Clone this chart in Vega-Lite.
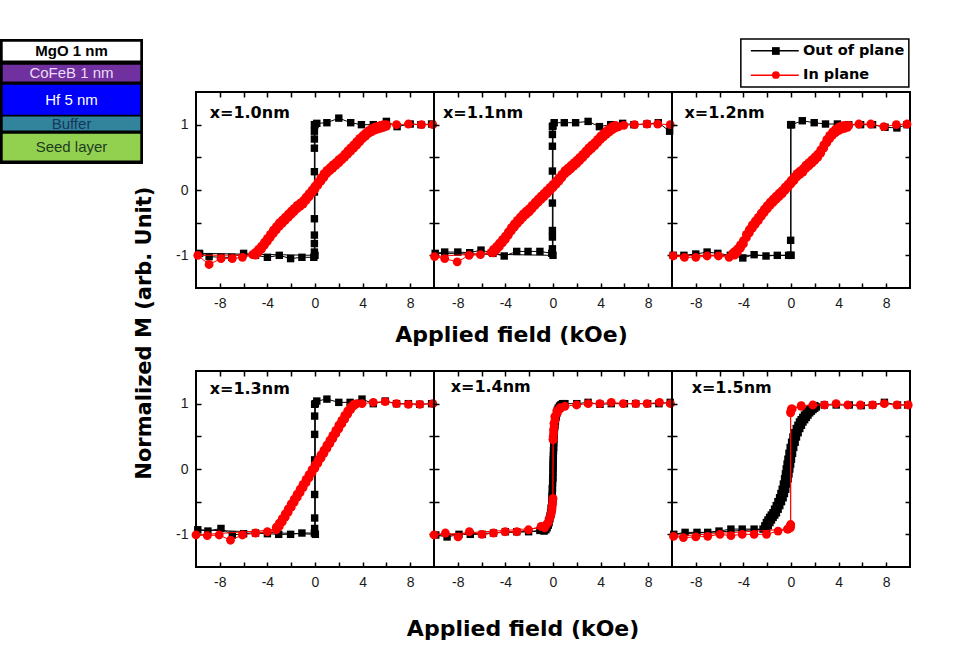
{
"$schema":"https://vega.github.io/schema/vega-lite/v6.json",
"background":"white",
"padding":{"left":0,"top":38,"right":0,"bottom":0},
"spacing":-10,
"datasets":{
"p1":[
{"s":"O","o":1,"h":9.8,"m":1.01},{"s":"O","o":2,"h":8.9,"m":1.0},{"s":"O","o":3,"h":8.0,"m":1.01},{"s":"O","o":4,"h":6.9,"m":0.97},{"s":"O","o":5,"h":6.0,"m":1.05},{"s":"O","o":6,"h":4.9,"m":1.0},{"s":"O","o":7,"h":3.9,"m":1.0},{"s":"O","o":8,"h":3.0,"m":1.03},{"s":"O","o":9,"h":2.0,"m":1.1},{"s":"O","o":10,"h":1.0,"m":1.03},{"s":"O","o":11,"h":0.15,"m":1.02},{"s":"O","o":12,"h":-0.05,"m":1.0},{"s":"O","o":13,"h":-0.05,"m":0.9},{"s":"O","o":14,"h":-0.05,"m":0.78},{"s":"O","o":15,"h":-0.05,"m":0.64},{"s":"O","o":16,"h":-0.05,"m":0.28},{"s":"O","o":17,"h":-0.05,"m":-0.03},{"s":"O","o":18,"h":-0.05,"m":-0.44},{"s":"O","o":19,"h":-0.05,"m":-0.69},{"s":"O","o":20,"h":-0.05,"m":-0.82},{"s":"O","o":21,"h":-0.05,"m":-0.95},{"s":"O","o":22,"h":-0.1,"m":-1.03},{"s":"O","o":23,"h":-1.1,"m":-1.03},{"s":"O","o":24,"h":-2.05,"m":-1.05},{"s":"O","o":25,"h":-3.0,"m":-1.0},{"s":"O","o":26,"h":-4.0,"m":-1.03},{"s":"O","o":27,"h":-5.0,"m":-1.0},{"s":"O","o":28,"h":-6.0,"m":-0.97},{"s":"O","o":29,"h":-7.0,"m":-1.03},{"s":"O","o":30,"h":-7.9,"m":-1.03},{"s":"O","o":31,"h":-8.9,"m":-1.02},{"s":"O","o":32,"h":-9.7,"m":-0.97},{"s":"O","o":33,"h":0.0,"m":-1.0},{"s":"O","o":34,"h":0.0,"m":1.0},
{"s":"I","o":1,"h":9.9,"m":1.0},{"s":"I","o":2,"h":8.95,"m":1.0},{"s":"I","o":3,"h":7.85,"m":1.01},{"s":"I","o":4,"h":6.85,"m":1.0},{"s":"I","o":5,"h":6.0,"m":1.0},
{"s":"I","o":6,"h":5.75,"m":1.0},{"s":"I","o":7,"h":5.5,"m":0.99},{"s":"I","o":8,"h":5.25,"m":0.975},{"s":"I","o":9,"h":5.0,"m":0.96},{"s":"I","o":10,"h":4.75,"m":0.94},{"s":"I","o":11,"h":4.5,"m":0.91},{"s":"I","o":12,"h":4.25,"m":0.87},{"s":"I","o":13,"h":4.0,"m":0.83},{"s":"I","o":14,"h":3.75,"m":0.79},{"s":"I","o":15,"h":3.5,"m":0.74},{"s":"I","o":16,"h":3.25,"m":0.69},{"s":"I","o":17,"h":3.0,"m":0.645},{"s":"I","o":18,"h":2.75,"m":0.6},{"s":"I","o":19,"h":2.5,"m":0.55},{"s":"I","o":20,"h":2.25,"m":0.5},{"s":"I","o":21,"h":2.0,"m":0.465},{"s":"I","o":22,"h":1.75,"m":0.42},{"s":"I","o":23,"h":1.5,"m":0.385},{"s":"I","o":24,"h":1.25,"m":0.34},{"s":"I","o":25,"h":1.0,"m":0.3},{"s":"I","o":26,"h":0.75,"m":0.25},{"s":"I","o":27,"h":0.5,"m":0.185},{"s":"I","o":28,"h":0.25,"m":0.12},{"s":"I","o":29,"h":0.0,"m":0.06},{"s":"I","o":30,"h":-0.25,"m":0.0},{"s":"I","o":31,"h":-0.5,"m":-0.055},{"s":"I","o":32,"h":-0.75,"m":-0.11},{"s":"I","o":33,"h":-1.0,"m":-0.165},{"s":"I","o":34,"h":-1.25,"m":-0.2},{"s":"I","o":35,"h":-1.5,"m":-0.235},{"s":"I","o":36,"h":-1.75,"m":-0.28},{"s":"I","o":37,"h":-2.0,"m":-0.325},{"s":"I","o":38,"h":-2.25,"m":-0.37},{"s":"I","o":39,"h":-2.5,"m":-0.415},{"s":"I","o":40,"h":-2.75,"m":-0.46},{"s":"I","o":41,"h":-3.0,"m":-0.505},{"s":"I","o":42,"h":-3.25,"m":-0.56},{"s":"I","o":43,"h":-3.5,"m":-0.615},{"s":"I","o":44,"h":-3.75,"m":-0.68},{"s":"I","o":45,"h":-4.0,"m":-0.74},{"s":"I","o":46,"h":-4.25,"m":-0.8},{"s":"I","o":47,"h":-4.5,"m":-0.86},{"s":"I","o":48,"h":-4.75,"m":-0.91},{"s":"I","o":49,"h":-5.0,"m":-0.955},{"s":"I","o":50,"h":-5.25,"m":-0.99},
{"s":"I","o":51,"h":-6.1,"m":-1.03},{"s":"I","o":52,"h":-6.95,"m":-1.05},{"s":"I","o":53,"h":-7.9,"m":-1.05},{"s":"I","o":54,"h":-8.9,"m":-1.14},{"s":"I","o":55,"h":-9.85,"m":-1.0},
{"s":"I","o":56,"h":-5.0,"m":-0.995},{"s":"I","o":57,"h":-4.75,"m":-0.95},{"s":"I","o":58,"h":-4.5,"m":-0.905},{"s":"I","o":59,"h":-4.25,"m":-0.845},{"s":"I","o":60,"h":-4.0,"m":-0.785},{"s":"I","o":61,"h":-3.75,"m":-0.725},{"s":"I","o":62,"h":-3.5,"m":-0.665},{"s":"I","o":63,"h":-3.25,"m":-0.61},{"s":"I","o":64,"h":-3.0,"m":-0.555},{"s":"I","o":65,"h":-2.75,"m":-0.51},{"s":"I","o":66,"h":-2.5,"m":-0.465},{"s":"I","o":67,"h":-2.25,"m":-0.42},{"s":"I","o":68,"h":-2.0,"m":-0.375},{"s":"I","o":69,"h":-1.75,"m":-0.33},{"s":"I","o":70,"h":-1.5,"m":-0.285},{"s":"I","o":71,"h":-1.25,"m":-0.25},{"s":"I","o":72,"h":-1.0,"m":-0.215},{"s":"I","o":73,"h":-0.75,"m":-0.16},{"s":"I","o":74,"h":-0.5,"m":-0.105},{"s":"I","o":75,"h":-0.25,"m":-0.045},{"s":"I","o":76,"h":0.0,"m":0.015},{"s":"I","o":77,"h":0.25,"m":0.075},{"s":"I","o":78,"h":0.5,"m":0.135},{"s":"I","o":79,"h":0.75,"m":0.195},{"s":"I","o":80,"h":1.0,"m":0.255},{"s":"I","o":81,"h":1.25,"m":0.295},{"s":"I","o":82,"h":1.5,"m":0.335},{"s":"I","o":83,"h":1.75,"m":0.375},{"s":"I","o":84,"h":2.0,"m":0.415},{"s":"I","o":85,"h":2.25,"m":0.46},{"s":"I","o":86,"h":2.5,"m":0.505},{"s":"I","o":87,"h":2.75,"m":0.55},{"s":"I","o":88,"h":3.0,"m":0.595},{"s":"I","o":89,"h":3.25,"m":0.64},{"s":"I","o":90,"h":3.5,"m":0.685},{"s":"I","o":91,"h":3.75,"m":0.735},{"s":"I","o":92,"h":4.0,"m":0.785},{"s":"I","o":93,"h":4.25,"m":0.825},{"s":"I","o":94,"h":4.5,"m":0.865},{"s":"I","o":95,"h":4.75,"m":0.89},{"s":"I","o":96,"h":5.0,"m":0.915},{"s":"I","o":97,"h":5.25,"m":0.93},{"s":"I","o":98,"h":5.5,"m":0.945},{"s":"I","o":99,"h":5.75,"m":0.96},{"s":"I","o":100,"h":6.0,"m":0.975}
],
"p2":[
{"s":"O","o":1,"h":9.8,"m":0.9},{"s":"O","o":2,"h":8.85,"m":1.03},{"s":"O","o":3,"h":7.9,"m":1.01},{"s":"O","o":4,"h":6.8,"m":1.0},{"s":"O","o":5,"h":5.85,"m":1.02},{"s":"O","o":6,"h":4.85,"m":1.0},{"s":"O","o":7,"h":3.9,"m":0.97},{"s":"O","o":8,"h":2.95,"m":1.05},{"s":"O","o":9,"h":1.9,"m":1.03},{"s":"O","o":10,"h":0.95,"m":1.03},{"s":"O","o":11,"h":0.1,"m":1.03},{"s":"O","o":12,"h":-0.05,"m":0.97},{"s":"O","o":13,"h":-0.05,"m":0.85},{"s":"O","o":14,"h":-0.05,"m":0.67},{"s":"O","o":15,"h":-0.05,"m":0.29},{"s":"O","o":16,"h":-0.05,"m":-0.2},{"s":"O","o":17,"h":-0.05,"m":-0.62},{"s":"O","o":18,"h":-0.05,"m":-0.72},{"s":"O","o":19,"h":-0.05,"m":-0.9},{"s":"O","o":20,"h":-0.1,"m":-0.97},{"s":"O","o":21,"h":-1.1,"m":-0.94},{"s":"O","o":22,"h":-2.1,"m":-0.94},{"s":"O","o":23,"h":-3.05,"m":-0.94},{"s":"O","o":24,"h":-4.1,"m":-1.01},{"s":"O","o":25,"h":-5.05,"m":-0.97},{"s":"O","o":26,"h":-6.05,"m":-0.92},{"s":"O","o":27,"h":-7.0,"m":-0.96},{"s":"O","o":28,"h":-8.0,"m":-0.95},{"s":"O","o":29,"h":-9.1,"m":-0.95},{"s":"O","o":30,"h":-9.9,"m":-0.97},{"s":"O","o":31,"h":0.0,"m":-1.0},{"s":"O","o":32,"h":0.0,"m":0.98},
{"s":"I","o":1,"h":9.85,"m":1.0},{"s":"I","o":2,"h":8.8,"m":1.01},{"s":"I","o":3,"h":7.9,"m":1.01},{"s":"I","o":4,"h":6.85,"m":1.0},{"s":"I","o":5,"h":5.95,"m":0.99},
{"s":"I","o":6,"h":5.25,"m":0.99},{"s":"I","o":7,"h":5.0,"m":0.975},{"s":"I","o":8,"h":4.75,"m":0.94},{"s":"I","o":9,"h":4.5,"m":0.905},{"s":"I","o":10,"h":4.25,"m":0.865},{"s":"I","o":11,"h":4.0,"m":0.825},{"s":"I","o":12,"h":3.75,"m":0.775},{"s":"I","o":13,"h":3.5,"m":0.725},{"s":"I","o":14,"h":3.25,"m":0.685},{"s":"I","o":15,"h":3.0,"m":0.645},{"s":"I","o":16,"h":2.75,"m":0.595},{"s":"I","o":17,"h":2.5,"m":0.545},{"s":"I","o":18,"h":2.25,"m":0.5},{"s":"I","o":19,"h":2.0,"m":0.455},{"s":"I","o":20,"h":1.75,"m":0.415},{"s":"I","o":21,"h":1.5,"m":0.375},{"s":"I","o":22,"h":1.25,"m":0.335},{"s":"I","o":23,"h":1.0,"m":0.295},{"s":"I","o":24,"h":0.75,"m":0.24},{"s":"I","o":25,"h":0.5,"m":0.185},{"s":"I","o":26,"h":0.25,"m":0.135},{"s":"I","o":27,"h":0.0,"m":0.085},{"s":"I","o":28,"h":-0.25,"m":0.04},{"s":"I","o":29,"h":-0.5,"m":-0.005},{"s":"I","o":30,"h":-0.75,"m":-0.05},{"s":"I","o":31,"h":-1.0,"m":-0.095},{"s":"I","o":32,"h":-1.25,"m":-0.14},{"s":"I","o":33,"h":-1.5,"m":-0.185},{"s":"I","o":34,"h":-1.75,"m":-0.235},{"s":"I","o":35,"h":-2.0,"m":-0.285},{"s":"I","o":36,"h":-2.25,"m":-0.325},{"s":"I","o":37,"h":-2.5,"m":-0.365},{"s":"I","o":38,"h":-2.75,"m":-0.415},{"s":"I","o":39,"h":-3.0,"m":-0.465},{"s":"I","o":40,"h":-3.25,"m":-0.52},{"s":"I","o":41,"h":-3.5,"m":-0.575},{"s":"I","o":42,"h":-3.75,"m":-0.64},{"s":"I","o":43,"h":-4.0,"m":-0.705},{"s":"I","o":44,"h":-4.25,"m":-0.76},{"s":"I","o":45,"h":-4.5,"m":-0.815},{"s":"I","o":46,"h":-4.75,"m":-0.865},{"s":"I","o":47,"h":-5.0,"m":-0.91},{"s":"I","o":48,"h":-5.2,"m":-0.955},
{"s":"I","o":49,"h":-6.1,"m":-0.99},{"s":"I","o":50,"h":-7.05,"m":-1.0},{"s":"I","o":51,"h":-8.05,"m":-1.1},{"s":"I","o":52,"h":-9.1,"m":-1.05},{"s":"I","o":53,"h":-9.95,"m":-1.02},
{"s":"I","o":54,"h":-5.0,"m":-0.96},{"s":"I","o":55,"h":-4.75,"m":-0.915},{"s":"I","o":56,"h":-4.5,"m":-0.865},{"s":"I","o":57,"h":-4.25,"m":-0.81},{"s":"I","o":58,"h":-4.0,"m":-0.755},{"s":"I","o":59,"h":-3.75,"m":-0.69},{"s":"I","o":60,"h":-3.5,"m":-0.625},{"s":"I","o":61,"h":-3.25,"m":-0.57},{"s":"I","o":62,"h":-3.0,"m":-0.515},{"s":"I","o":63,"h":-2.75,"m":-0.465},{"s":"I","o":64,"h":-2.5,"m":-0.415},{"s":"I","o":65,"h":-2.25,"m":-0.375},{"s":"I","o":66,"h":-2.0,"m":-0.335},{"s":"I","o":67,"h":-1.75,"m":-0.285},{"s":"I","o":68,"h":-1.5,"m":-0.235},{"s":"I","o":69,"h":-1.25,"m":-0.19},{"s":"I","o":70,"h":-1.0,"m":-0.145},{"s":"I","o":71,"h":-0.75,"m":-0.1},{"s":"I","o":72,"h":-0.5,"m":-0.055},{"s":"I","o":73,"h":-0.25,"m":-0.01},{"s":"I","o":74,"h":0.0,"m":0.035},{"s":"I","o":75,"h":0.25,"m":0.085},{"s":"I","o":76,"h":0.5,"m":0.135},{"s":"I","o":77,"h":0.75,"m":0.19},{"s":"I","o":78,"h":1.0,"m":0.245},{"s":"I","o":79,"h":1.25,"m":0.285},{"s":"I","o":80,"h":1.5,"m":0.325},{"s":"I","o":81,"h":1.75,"m":0.365},{"s":"I","o":82,"h":2.0,"m":0.405},{"s":"I","o":83,"h":2.25,"m":0.45},{"s":"I","o":84,"h":2.5,"m":0.495},{"s":"I","o":85,"h":2.75,"m":0.545},{"s":"I","o":86,"h":3.0,"m":0.595},{"s":"I","o":87,"h":3.25,"m":0.635},{"s":"I","o":88,"h":3.5,"m":0.675},{"s":"I","o":89,"h":3.75,"m":0.725},{"s":"I","o":90,"h":4.0,"m":0.775},{"s":"I","o":91,"h":4.25,"m":0.815},{"s":"I","o":92,"h":4.5,"m":0.855},{"s":"I","o":93,"h":4.75,"m":0.89},{"s":"I","o":94,"h":5.0,"m":0.925},{"s":"I","o":95,"h":5.25,"m":0.95},{"s":"I","o":96,"h":5.5,"m":0.965}
],
"p3":[
{"s":"O","o":1,"h":9.75,"m":1.0},{"s":"O","o":2,"h":8.9,"m":0.95},{"s":"O","o":3,"h":7.9,"m":0.96},{"s":"O","o":4,"h":6.85,"m":1.0},{"s":"O","o":5,"h":5.85,"m":1.0},{"s":"O","o":6,"h":4.85,"m":1.0},{"s":"O","o":7,"h":3.9,"m":1.01},{"s":"O","o":8,"h":2.9,"m":1.01},{"s":"O","o":9,"h":1.95,"m":1.03},{"s":"O","o":10,"h":0.95,"m":1.06},{"s":"O","o":11,"h":0.05,"m":1.0},{"s":"O","o":12,"h":-0.03,"m":1.0},{"s":"O","o":13,"h":-0.03,"m":-0.77},{"s":"O","o":14,"h":-0.03,"m":-1.0},{"s":"O","o":15,"h":-0.2,"m":-1.0},{"s":"O","o":16,"h":-1.15,"m":-1.0},{"s":"O","o":17,"h":-2.1,"m":-1.01},{"s":"O","o":18,"h":-3.1,"m":-0.99},{"s":"O","o":19,"h":-4.05,"m":-1.04},{"s":"O","o":20,"h":-5.1,"m":-1.0},{"s":"O","o":21,"h":-6.15,"m":-0.97},{"s":"O","o":22,"h":-7.05,"m":-0.95},{"s":"O","o":23,"h":-8.0,"m":-0.98},{"s":"O","o":24,"h":-9.0,"m":-1.0},{"s":"O","o":25,"h":-9.9,"m":-1.0},{"s":"O","o":26,"h":0.0,"m":-1.0},{"s":"O","o":27,"h":0.0,"m":1.0},
{"s":"I","o":1,"h":9.75,"m":1.01},{"s":"I","o":2,"h":8.85,"m":1.0},{"s":"I","o":3,"h":7.8,"m":0.97},{"s":"I","o":4,"h":6.7,"m":1.01},{"s":"I","o":5,"h":5.7,"m":1.01},{"s":"I","o":6,"h":4.85,"m":0.99},
{"s":"I","o":7,"h":4.5,"m":0.99},{"s":"I","o":8,"h":4.25,"m":0.98},{"s":"I","o":9,"h":4.0,"m":0.96},{"s":"I","o":10,"h":3.75,"m":0.93},{"s":"I","o":11,"h":3.5,"m":0.89},{"s":"I","o":12,"h":3.25,"m":0.835},{"s":"I","o":13,"h":3.0,"m":0.77},{"s":"I","o":14,"h":2.75,"m":0.69},{"s":"I","o":15,"h":2.5,"m":0.615},{"s":"I","o":16,"h":2.25,"m":0.55},{"s":"I","o":17,"h":2.0,"m":0.505},{"s":"I","o":18,"h":1.75,"m":0.46},{"s":"I","o":19,"h":1.5,"m":0.42},{"s":"I","o":20,"h":1.25,"m":0.38},{"s":"I","o":21,"h":1.0,"m":0.325},{"s":"I","o":22,"h":0.75,"m":0.29},{"s":"I","o":23,"h":0.5,"m":0.25},{"s":"I","o":24,"h":0.25,"m":0.195},{"s":"I","o":25,"h":0.0,"m":0.145},{"s":"I","o":26,"h":-0.25,"m":0.09},{"s":"I","o":27,"h":-0.5,"m":0.045},{"s":"I","o":28,"h":-0.75,"m":-0.01},{"s":"I","o":29,"h":-1.0,"m":-0.05},{"s":"I","o":30,"h":-1.25,"m":-0.095},{"s":"I","o":31,"h":-1.5,"m":-0.14},{"s":"I","o":32,"h":-1.75,"m":-0.185},{"s":"I","o":33,"h":-2.0,"m":-0.24},{"s":"I","o":34,"h":-2.25,"m":-0.295},{"s":"I","o":35,"h":-2.5,"m":-0.355},{"s":"I","o":36,"h":-2.75,"m":-0.42},{"s":"I","o":37,"h":-3.0,"m":-0.475},{"s":"I","o":38,"h":-3.25,"m":-0.535},{"s":"I","o":39,"h":-3.5,"m":-0.605},{"s":"I","o":40,"h":-3.75,"m":-0.68},{"s":"I","o":41,"h":-4.0,"m":-0.775},{"s":"I","o":42,"h":-4.25,"m":-0.84},{"s":"I","o":43,"h":-4.5,"m":-0.9},{"s":"I","o":44,"h":-4.75,"m":-0.945},{"s":"I","o":45,"h":-4.9,"m":-0.97},
{"s":"I","o":46,"h":-5.2,"m":-1.03},{"s":"I","o":47,"h":-6.1,"m":-1.01},{"s":"I","o":48,"h":-7.05,"m":-1.01},{"s":"I","o":49,"h":-8.0,"m":-1.03},{"s":"I","o":50,"h":-8.95,"m":-1.03},{"s":"I","o":51,"h":-9.9,"m":-1.01},
{"s":"I","o":52,"h":-4.75,"m":-0.995},{"s":"I","o":53,"h":-4.5,"m":-0.95},{"s":"I","o":54,"h":-4.25,"m":-0.89},{"s":"I","o":55,"h":-4.0,"m":-0.825},{"s":"I","o":56,"h":-3.75,"m":-0.73},{"s":"I","o":57,"h":-3.5,"m":-0.655},{"s":"I","o":58,"h":-3.25,"m":-0.585},{"s":"I","o":59,"h":-3.0,"m":-0.525},{"s":"I","o":60,"h":-2.75,"m":-0.47},{"s":"I","o":61,"h":-2.5,"m":-0.405},{"s":"I","o":62,"h":-2.25,"m":-0.345},{"s":"I","o":63,"h":-2.0,"m":-0.29},{"s":"I","o":64,"h":-1.75,"m":-0.235},{"s":"I","o":65,"h":-1.5,"m":-0.19},{"s":"I","o":66,"h":-1.25,"m":-0.145},{"s":"I","o":67,"h":-1.0,"m":-0.1},{"s":"I","o":68,"h":-0.75,"m":-0.06},{"s":"I","o":69,"h":-0.5,"m":-0.005},{"s":"I","o":70,"h":-0.25,"m":0.04},{"s":"I","o":71,"h":0.0,"m":0.095},{"s":"I","o":72,"h":0.25,"m":0.145},{"s":"I","o":73,"h":0.5,"m":0.2},{"s":"I","o":74,"h":0.75,"m":0.24},{"s":"I","o":75,"h":1.0,"m":0.275},{"s":"I","o":76,"h":1.25,"m":0.33},{"s":"I","o":77,"h":1.5,"m":0.37},{"s":"I","o":78,"h":1.75,"m":0.41},{"s":"I","o":79,"h":2.0,"m":0.455},{"s":"I","o":80,"h":2.25,"m":0.5},{"s":"I","o":81,"h":2.5,"m":0.565},{"s":"I","o":82,"h":2.75,"m":0.64},{"s":"I","o":83,"h":3.0,"m":0.72},{"s":"I","o":84,"h":3.25,"m":0.785},{"s":"I","o":85,"h":3.5,"m":0.84},{"s":"I","o":86,"h":3.75,"m":0.88},{"s":"I","o":87,"h":4.0,"m":0.91},{"s":"I","o":88,"h":4.25,"m":0.93},{"s":"I","o":89,"h":4.5,"m":0.945},{"s":"I","o":90,"h":4.75,"m":0.96}
],
"p4":[
{"s":"O","o":1,"h":9.8,"m":1.0},{"s":"O","o":2,"h":8.8,"m":0.99},{"s":"O","o":3,"h":7.85,"m":1.0},{"s":"O","o":4,"h":6.85,"m":1.0},{"s":"O","o":5,"h":5.9,"m":1.04},{"s":"O","o":6,"h":4.9,"m":1.0},{"s":"O","o":7,"h":3.95,"m":1.07},{"s":"O","o":8,"h":2.95,"m":1.02},{"s":"O","o":9,"h":2.0,"m":1.02},{"s":"O","o":10,"h":1.0,"m":1.07},{"s":"O","o":11,"h":0.15,"m":1.04},{"s":"O","o":12,"h":-0.03,"m":0.99},{"s":"O","o":13,"h":-0.03,"m":0.81},{"s":"O","o":14,"h":-0.03,"m":0.53},{"s":"O","o":15,"h":-0.03,"m":0.14},{"s":"O","o":16,"h":-0.03,"m":-0.39},{"s":"O","o":17,"h":-0.03,"m":-0.75},{"s":"O","o":18,"h":-0.03,"m":-0.91},{"s":"O","o":19,"h":-0.05,"m":-0.98},{"s":"O","o":20,"h":-1.1,"m":-0.98},{"s":"O","o":21,"h":-2.05,"m":-1.0},{"s":"O","o":22,"h":-3.05,"m":-1.0},{"s":"O","o":23,"h":-4.0,"m":-0.99},{"s":"O","o":24,"h":-5.0,"m":-0.98},{"s":"O","o":25,"h":-6.0,"m":-0.99},{"s":"O","o":26,"h":-6.95,"m":-1.01},{"s":"O","o":27,"h":-7.9,"m":-0.91},{"s":"O","o":28,"h":-9.0,"m":-0.95},{"s":"O","o":29,"h":-9.85,"m":-0.93},{"s":"O","o":30,"h":0.03,"m":-1.0},{"s":"O","o":31,"h":0.03,"m":1.0},
{"s":"I","o":1,"h":9.9,"m":1.0},{"s":"I","o":2,"h":8.8,"m":0.99},{"s":"I","o":3,"h":7.85,"m":0.99},{"s":"I","o":4,"h":6.85,"m":1.0},{"s":"I","o":5,"h":5.9,"m":1.03},{"s":"I","o":6,"h":4.9,"m":1.02},{"s":"I","o":7,"h":3.95,"m":1.0},{"s":"I","o":8,"h":3.5,"m":1.0},
{"s":"I","o":9,"h":3.25,"m":0.99},{"s":"I","o":10,"h":3.0,"m":0.95},{"s":"I","o":11,"h":2.75,"m":0.89},{"s":"I","o":12,"h":2.5,"m":0.82},{"s":"I","o":13,"h":2.25,"m":0.745},{"s":"I","o":14,"h":2.0,"m":0.67},{"s":"I","o":15,"h":1.75,"m":0.59},{"s":"I","o":16,"h":1.5,"m":0.515},{"s":"I","o":17,"h":1.25,"m":0.44},{"s":"I","o":18,"h":1.0,"m":0.365},{"s":"I","o":19,"h":0.75,"m":0.29},{"s":"I","o":20,"h":0.5,"m":0.215},{"s":"I","o":21,"h":0.25,"m":0.14},{"s":"I","o":22,"h":0.0,"m":0.065},{"s":"I","o":23,"h":-0.25,"m":-0.01},{"s":"I","o":24,"h":-0.5,"m":-0.085},{"s":"I","o":25,"h":-0.75,"m":-0.16},{"s":"I","o":26,"h":-1.0,"m":-0.235},{"s":"I","o":27,"h":-1.25,"m":-0.31},{"s":"I","o":28,"h":-1.5,"m":-0.385},{"s":"I","o":29,"h":-1.75,"m":-0.46},{"s":"I","o":30,"h":-2.0,"m":-0.535},{"s":"I","o":31,"h":-2.25,"m":-0.61},{"s":"I","o":32,"h":-2.5,"m":-0.685},{"s":"I","o":33,"h":-2.75,"m":-0.76},{"s":"I","o":34,"h":-3.0,"m":-0.83},{"s":"I","o":35,"h":-3.25,"m":-0.89},
{"s":"I","o":36,"h":-4.0,"m":-0.96},{"s":"I","o":37,"h":-5.0,"m":-0.98},{"s":"I","o":38,"h":-6.1,"m":-1.01},{"s":"I","o":39,"h":-7.1,"m":-1.09},{"s":"I","o":40,"h":-8.05,"m":-1.01},{"s":"I","o":41,"h":-9.05,"m":-1.02},{"s":"I","o":42,"h":-10.0,"m":-1.01},
{"s":"I","o":43,"h":-3.25,"m":-0.93},{"s":"I","o":44,"h":-3.0,"m":-0.88},{"s":"I","o":45,"h":-2.75,"m":-0.81},{"s":"I","o":46,"h":-2.5,"m":-0.735},{"s":"I","o":47,"h":-2.25,"m":-0.66},{"s":"I","o":48,"h":-2.0,"m":-0.585},{"s":"I","o":49,"h":-1.75,"m":-0.51},{"s":"I","o":50,"h":-1.5,"m":-0.435},{"s":"I","o":51,"h":-1.25,"m":-0.36},{"s":"I","o":52,"h":-1.0,"m":-0.285},{"s":"I","o":53,"h":-0.75,"m":-0.21},{"s":"I","o":54,"h":-0.5,"m":-0.135},{"s":"I","o":55,"h":-0.25,"m":-0.06},{"s":"I","o":56,"h":0.0,"m":0.015},{"s":"I","o":57,"h":0.25,"m":0.09},{"s":"I","o":58,"h":0.5,"m":0.165},{"s":"I","o":59,"h":0.75,"m":0.24},{"s":"I","o":60,"h":1.0,"m":0.315},{"s":"I","o":61,"h":1.25,"m":0.39},{"s":"I","o":62,"h":1.5,"m":0.465},{"s":"I","o":63,"h":1.75,"m":0.54},{"s":"I","o":64,"h":2.0,"m":0.615},{"s":"I","o":65,"h":2.25,"m":0.69},{"s":"I","o":66,"h":2.5,"m":0.765},{"s":"I","o":67,"h":2.75,"m":0.84},{"s":"I","o":68,"h":3.0,"m":0.91},{"s":"I","o":69,"h":3.25,"m":0.965},{"s":"I","o":70,"h":3.4,"m":0.99}
],
"p5":[
{"s":"O","o":1,"h":9.85,"m":1.02},{"s":"O","o":2,"h":8.9,"m":1.0},{"s":"O","o":3,"h":7.95,"m":1.0},{"s":"O","o":4,"h":6.95,"m":1.0},{"s":"O","o":5,"h":6.0,"m":1.0},{"s":"O","o":6,"h":4.9,"m":1.0},{"s":"O","o":7,"h":3.95,"m":0.99},{"s":"O","o":8,"h":2.95,"m":1.02},{"s":"O","o":9,"h":2.0,"m":1.0},
{"s":"O","o":10,"h":1.0,"m":1.0},{"s":"O","o":11,"h":0.85,"m":0.99},{"s":"O","o":12,"h":0.7,"m":0.98},{"s":"O","o":13,"h":0.57,"m":0.96},{"s":"O","o":14,"h":0.45,"m":0.93},{"s":"O","o":15,"h":0.37,"m":0.89},{"s":"O","o":16,"h":0.3,"m":0.85},{"s":"O","o":17,"h":0.25,"m":0.8},{"s":"O","o":18,"h":0.2,"m":0.75},{"s":"O","o":19,"h":0.16,"m":0.68},{"s":"O","o":20,"h":0.12,"m":0.6},{"s":"O","o":21,"h":0.09,"m":0.5},{"s":"O","o":22,"h":0.06,"m":0.4},{"s":"O","o":23,"h":0.04,"m":0.28},{"s":"O","o":24,"h":0.02,"m":0.15},{"s":"O","o":25,"h":0.01,"m":0.05},{"s":"O","o":26,"h":0.0,"m":-0.05},{"s":"O","o":27,"h":-0.015,"m":-0.12},{"s":"O","o":28,"h":-0.03,"m":-0.2},{"s":"O","o":29,"h":-0.05,"m":-0.3},{"s":"O","o":30,"h":-0.08,"m":-0.42},{"s":"O","o":31,"h":-0.11,"m":-0.52},{"s":"O","o":32,"h":-0.15,"m":-0.6},{"s":"O","o":33,"h":-0.2,"m":-0.67},{"s":"O","o":34,"h":-0.25,"m":-0.72},{"s":"O","o":35,"h":-0.31,"m":-0.77},{"s":"O","o":36,"h":-0.38,"m":-0.8},{"s":"O","o":37,"h":-0.46,"m":-0.85},{"s":"O","o":38,"h":-0.55,"m":-0.88},{"s":"O","o":39,"h":-0.65,"m":-0.9},{"s":"O","o":40,"h":-0.75,"m":-0.92},
{"s":"O","o":41,"h":-1.1,"m":-0.94},{"s":"O","o":42,"h":-2.05,"m":-0.96},{"s":"O","o":43,"h":-3.05,"m":-0.96},{"s":"O","o":44,"h":-4.0,"m":-0.96},{"s":"O","o":45,"h":-5.0,"m":-0.98},{"s":"O","o":46,"h":-5.95,"m":-1.0},{"s":"O","o":47,"h":-6.95,"m":-1.0},{"s":"O","o":48,"h":-7.9,"m":-1.0},{"s":"O","o":49,"h":-8.9,"m":-1.04},{"s":"O","o":50,"h":-9.85,"m":-1.01},
{"s":"O","o":51,"h":-0.75,"m":-0.95},{"s":"O","o":52,"h":-0.6,"m":-0.93},{"s":"O","o":53,"h":-0.5,"m":-0.9},{"s":"O","o":54,"h":-0.4,"m":-0.86},{"s":"O","o":55,"h":-0.33,"m":-0.82},{"s":"O","o":56,"h":-0.26,"m":-0.76},{"s":"O","o":57,"h":-0.2,"m":-0.7},{"s":"O","o":58,"h":-0.14,"m":-0.6},{"s":"O","o":59,"h":-0.1,"m":-0.5},{"s":"O","o":60,"h":-0.07,"m":-0.4},{"s":"O","o":61,"h":-0.05,"m":-0.3},{"s":"O","o":62,"h":-0.02,"m":-0.15},{"s":"O","o":63,"h":0.0,"m":0.0},{"s":"O","o":64,"h":0.015,"m":0.1},{"s":"O","o":65,"h":0.03,"m":0.2},{"s":"O","o":66,"h":0.055,"m":0.33},{"s":"O","o":67,"h":0.08,"m":0.45},{"s":"O","o":68,"h":0.11,"m":0.55},{"s":"O","o":69,"h":0.15,"m":0.65},{"s":"O","o":70,"h":0.2,"m":0.73},{"s":"O","o":71,"h":0.25,"m":0.8},{"s":"O","o":72,"h":0.31,"m":0.86},{"s":"O","o":73,"h":0.38,"m":0.9},{"s":"O","o":74,"h":0.46,"m":0.93},{"s":"O","o":75,"h":0.55,"m":0.96},{"s":"O","o":76,"h":0.67,"m":0.98},{"s":"O","o":77,"h":0.8,"m":1.0},
{"s":"I","o":1,"h":9.87,"m":1.0},{"s":"I","o":2,"h":8.95,"m":1.02},{"s":"I","o":3,"h":7.9,"m":1.0},{"s":"I","o":4,"h":6.95,"m":1.0},{"s":"I","o":5,"h":5.9,"m":1.0},{"s":"I","o":6,"h":4.9,"m":1.02},{"s":"I","o":7,"h":3.93,"m":1.0},{"s":"I","o":8,"h":2.96,"m":1.0},{"s":"I","o":9,"h":1.98,"m":0.98},{"s":"I","o":10,"h":1.0,"m":0.96},{"s":"I","o":11,"h":0.6,"m":0.94},{"s":"I","o":12,"h":0.32,"m":0.89},{"s":"I","o":13,"h":0.15,"m":0.8},{"s":"I","o":14,"h":0.08,"m":0.7},{"s":"I","o":15,"h":0.04,"m":0.6},{"s":"I","o":16,"h":0.02,"m":0.5},{"s":"I","o":17,"h":0.0,"m":0.45},{"s":"I","o":18,"h":0.0,"m":-0.45},{"s":"I","o":19,"h":-0.03,"m":-0.52},{"s":"I","o":20,"h":-0.08,"m":-0.6},{"s":"I","o":21,"h":-0.15,"m":-0.68},{"s":"I","o":22,"h":-0.3,"m":-0.76},{"s":"I","o":23,"h":-0.55,"m":-0.85},{"s":"I","o":24,"h":-1.0,"m":-0.88},{"s":"I","o":25,"h":-2.06,"m":-0.93},{"s":"I","o":26,"h":-3.04,"m":-0.96},{"s":"I","o":27,"h":-4.02,"m":-0.96},{"s":"I","o":28,"h":-5.0,"m":-0.98},{"s":"I","o":29,"h":-5.97,"m":-1.0},{"s":"I","o":30,"h":-7.03,"m":-0.96},{"s":"I","o":31,"h":-7.98,"m":-1.04},{"s":"I","o":32,"h":-9.04,"m":-0.98},{"s":"I","o":33,"h":-10.0,"m":-1.01},{"s":"I","o":34,"h":-0.7,"m":-0.9},{"s":"I","o":35,"h":-0.4,"m":-0.82},{"s":"I","o":36,"h":-0.2,"m":-0.72},{"s":"I","o":37,"h":-0.1,"m":-0.64},{"s":"I","o":38,"h":-0.05,"m":-0.55},{"s":"I","o":39,"h":-0.02,"m":-0.47},{"s":"I","o":40,"h":0.02,"m":0.45},{"s":"I","o":41,"h":0.05,"m":0.55},{"s":"I","o":42,"h":0.1,"m":0.65},{"s":"I","o":43,"h":0.18,"m":0.75},{"s":"I","o":44,"h":0.35,"m":0.85},{"s":"I","o":45,"h":0.6,"m":0.92}
],
"p6":[
{"s":"O","o":1,"h":9.8,"m":0.98},{"s":"O","o":2,"h":8.95,"m":0.98},{"s":"O","o":3,"h":7.85,"m":1.02},{"s":"O","o":4,"h":6.85,"m":0.98},{"s":"O","o":5,"h":5.9,"m":0.97},{"s":"O","o":6,"h":4.9,"m":0.98},{"s":"O","o":7,"h":3.8,"m":0.98},{"s":"O","o":8,"h":2.8,"m":0.98},
{"s":"O","o":9,"h":2.0,"m":0.97},{"s":"O","o":10,"h":1.83,"m":0.95},{"s":"O","o":11,"h":1.69,"m":0.93},{"s":"O","o":12,"h":1.55,"m":0.91},{"s":"O","o":13,"h":1.41,"m":0.885},{"s":"O","o":14,"h":1.27,"m":0.86},{"s":"O","o":15,"h":1.13,"m":0.825},{"s":"O","o":16,"h":0.99,"m":0.79},{"s":"O","o":17,"h":0.85,"m":0.755},{"s":"O","o":18,"h":0.71,"m":0.72},{"s":"O","o":19,"h":0.58,"m":0.67},{"s":"O","o":20,"h":0.44,"m":0.62},{"s":"O","o":21,"h":0.3,"m":0.555},{"s":"O","o":22,"h":0.16,"m":0.49},{"s":"O","o":23,"h":0.05,"m":0.41},{"s":"O","o":24,"h":-0.07,"m":0.33},{"s":"O","o":25,"h":-0.17,"m":0.24},{"s":"O","o":26,"h":-0.26,"m":0.15},{"s":"O","o":27,"h":-0.33,"m":0.075},{"s":"O","o":28,"h":-0.4,"m":0.0},{"s":"O","o":29,"h":-0.47,"m":-0.075},{"s":"O","o":30,"h":-0.54,"m":-0.15},{"s":"O","o":31,"h":-0.64,"m":-0.23},{"s":"O","o":32,"h":-0.74,"m":-0.31},{"s":"O","o":33,"h":-0.85,"m":-0.375},{"s":"O","o":34,"h":-0.96,"m":-0.44},{"s":"O","o":35,"h":-1.1,"m":-0.5},{"s":"O","o":36,"h":-1.24,"m":-0.56},{"s":"O","o":37,"h":-1.38,"m":-0.615},{"s":"O","o":38,"h":-1.52,"m":-0.67},{"s":"O","o":39,"h":-1.66,"m":-0.705},{"s":"O","o":40,"h":-1.8,"m":-0.74},{"s":"O","o":41,"h":-1.94,"m":-0.78},{"s":"O","o":42,"h":-2.07,"m":-0.82},{"s":"O","o":43,"h":-2.2,"m":-0.87},{"s":"O","o":44,"h":-2.35,"m":-0.92},
{"s":"O","o":45,"h":-3.1,"m":-0.92},{"s":"O","o":46,"h":-4.1,"m":-0.92},{"s":"O","o":47,"h":-5.05,"m":-0.92},{"s":"O","o":48,"h":-6.05,"m":-0.95},{"s":"O","o":49,"h":-7.0,"m":-0.97},{"s":"O","o":50,"h":-7.9,"m":-0.97},{"s":"O","o":51,"h":-8.9,"m":-0.97},{"s":"O","o":52,"h":-9.85,"m":-1.0},
{"s":"O","o":53,"h":-2.05,"m":-0.92},{"s":"O","o":54,"h":-1.91,"m":-0.87},{"s":"O","o":55,"h":-1.77,"m":-0.82},{"s":"O","o":56,"h":-1.64,"m":-0.78},{"s":"O","o":57,"h":-1.5,"m":-0.74},{"s":"O","o":58,"h":-1.36,"m":-0.705},{"s":"O","o":59,"h":-1.22,"m":-0.67},{"s":"O","o":60,"h":-1.08,"m":-0.615},{"s":"O","o":61,"h":-0.94,"m":-0.56},{"s":"O","o":62,"h":-0.8,"m":-0.5},{"s":"O","o":63,"h":-0.66,"m":-0.44},{"s":"O","o":64,"h":-0.55,"m":-0.375},{"s":"O","o":65,"h":-0.44,"m":-0.31},{"s":"O","o":66,"h":-0.34,"m":-0.23},{"s":"O","o":67,"h":-0.24,"m":-0.15},{"s":"O","o":68,"h":-0.17,"m":-0.075},{"s":"O","o":69,"h":-0.1,"m":0.0},{"s":"O","o":70,"h":-0.03,"m":0.075},{"s":"O","o":71,"h":0.04,"m":0.15},{"s":"O","o":72,"h":0.13,"m":0.24},{"s":"O","o":73,"h":0.23,"m":0.33},{"s":"O","o":74,"h":0.35,"m":0.41},{"s":"O","o":75,"h":0.46,"m":0.49},{"s":"O","o":76,"h":0.6,"m":0.555},{"s":"O","o":77,"h":0.74,"m":0.62},{"s":"O","o":78,"h":0.88,"m":0.67},{"s":"O","o":79,"h":1.01,"m":0.72},{"s":"O","o":80,"h":1.15,"m":0.755},{"s":"O","o":81,"h":1.29,"m":0.79},{"s":"O","o":82,"h":1.43,"m":0.825},{"s":"O","o":83,"h":1.57,"m":0.86},{"s":"O","o":84,"h":1.71,"m":0.885},{"s":"O","o":85,"h":1.85,"m":0.91},{"s":"O","o":86,"h":1.99,"m":0.93},{"s":"O","o":87,"h":2.13,"m":0.95},
{"s":"I","o":1,"h":9.85,"m":0.98},{"s":"I","o":2,"h":8.9,"m":0.98},{"s":"I","o":3,"h":7.84,"m":1.0},{"s":"I","o":4,"h":6.86,"m":0.98},{"s":"I","o":5,"h":5.83,"m":0.98},{"s":"I","o":6,"h":4.77,"m":0.98},{"s":"I","o":7,"h":3.79,"m":1.0},{"s":"I","o":8,"h":2.82,"m":0.98},{"s":"I","o":9,"h":1.84,"m":0.98},{"s":"I","o":10,"h":0.86,"m":0.96},{"s":"I","o":11,"h":0.1,"m":0.92},{"s":"I","o":12,"h":-0.03,"m":0.86},{"s":"I","o":13,"h":-0.03,"m":-0.85},{"s":"I","o":14,"h":-0.05,"m":-0.9},{"s":"I","o":15,"h":-0.25,"m":-0.92},{"s":"I","o":16,"h":-1.09,"m":-0.95},{"s":"I","o":17,"h":-2.06,"m":-1.0},{"s":"I","o":18,"h":-3.1,"m":-1.0},{"s":"I","o":19,"h":-4.1,"m":-1.0},{"s":"I","o":20,"h":-5.05,"m":-1.02},{"s":"I","o":21,"h":-5.97,"m":-1.0},{"s":"I","o":22,"h":-7.0,"m":-1.03},{"s":"I","o":23,"h":-8.0,"m":-1.04},{"s":"I","o":24,"h":-9.04,"m":-1.05},{"s":"I","o":25,"h":-9.87,"m":-1.03},{"s":"I","o":26,"h":-0.3,"m":-0.92},{"s":"I","o":27,"h":-0.05,"m":-0.88},{"s":"I","o":28,"h":-0.03,"m":-0.86},{"s":"I","o":29,"h":-0.03,"m":0.88},{"s":"I","o":30,"h":0.03,"m":0.92},{"s":"I","o":31,"h":0.86,"m":0.97}
]
},
"hconcat":[
{
"width":143,"height":125,
"view":{"stroke":null,"fill":"#000000"},
"layer":[
{"data":{"values":[{"t":"MgO 1 nm"}]},"layer":[
{"mark":{"type":"rect","fill":"#ffffff"},"encoding":{"x":{"datum":0.019,"type":"quantitative","scale":{"domain":[0,1],"nice":false},"axis":null},"x2":{"datum":0.981},"y":{"datum":2.2,"type":"quantitative","scale":{"domain":[0,100],"nice":false,"reverse":true},"axis":null},"y2":{"datum":17.2}}},
{"mark":{"type":"text","font":"Liberation Sans","fontSize":15,"fontWeight":"bold","color":"#000000","baseline":"middle"},"encoding":{"x":{"datum":0.5,"type":"quantitative"},"y":{"datum":9.7,"type":"quantitative"},"text":{"field":"t"}}}]},
{"data":{"values":[{"t":"CoFeB 1 nm"}]},"layer":[
{"mark":{"type":"rect","fill":"#7030a0"},"encoding":{"x":{"datum":0.019,"type":"quantitative"},"x2":{"datum":0.981},"y":{"datum":20.6,"type":"quantitative"},"y2":{"datum":34}}},
{"mark":{"type":"text","font":"Liberation Sans","fontSize":15,"color":"#eadcf7","baseline":"middle"},"encoding":{"x":{"datum":0.5,"type":"quantitative"},"y":{"datum":27.3,"type":"quantitative"},"text":{"field":"t"}}}]},
{"data":{"values":[{"t":"Hf 5 nm"}]},"layer":[
{"mark":{"type":"rect","fill":"#0000ff"},"encoding":{"x":{"datum":0.019,"type":"quantitative"},"x2":{"datum":0.981},"y":{"datum":36.6,"type":"quantitative"},"y2":{"datum":60.6}}},
{"mark":{"type":"text","font":"Liberation Sans","fontSize":15,"color":"#ffffff","baseline":"middle"},"encoding":{"x":{"datum":0.5,"type":"quantitative"},"y":{"datum":48.6,"type":"quantitative"},"text":{"field":"t"}}}]},
{"data":{"values":[{"t":"Buffer"}]},"layer":[
{"mark":{"type":"rect","fill":"#31849b"},"encoding":{"x":{"datum":0.019,"type":"quantitative"},"x2":{"datum":0.981},"y":{"datum":62,"type":"quantitative"},"y2":{"datum":73.2}}},
{"mark":{"type":"text","font":"Liberation Sans","fontSize":15,"color":"#17375e","baseline":"middle"},"encoding":{"x":{"datum":0.5,"type":"quantitative"},"y":{"datum":67.6,"type":"quantitative"},"text":{"field":"t"}}}]},
{"data":{"values":[{"t":"Seed layer"}]},"layer":[
{"mark":{"type":"rect","fill":"#92d050"},"encoding":{"x":{"datum":0.019,"type":"quantitative"},"x2":{"datum":0.981},"y":{"datum":75.8,"type":"quantitative"},"y2":{"datum":97.2}}},
{"mark":{"type":"text","font":"Liberation Sans","fontSize":15,"color":"#1e3d1e","baseline":"middle"},"encoding":{"x":{"datum":0.5,"type":"quantitative"},"y":{"datum":86.5,"type":"quantitative"},"text":{"field":"t"}}}]}
]
},
{
"title":{"text":"Normalized M (arb. Unit)","orient":"left","anchor":"middle","font":"DejaVu Sans","fontSize":21,"fontWeight":"bold","color":"#000000","offset":20,"dx":6},
"spacing":2,
"vconcat":[
{
"width":715,"height":48,
"view":{"stroke":null},
"data":{"values":[{"s":"Out of plane"},{"s":"In plane"}]},
"resolve":{"scale":{"y":"independent"}},
"layer":[
{"data":{"values":[{"k":"box"}]},"mark":{"type":"rect","fill":"#ffffff","stroke":"#000000","strokeWidth":1.5},"encoding":{"x":{"datum":0.762,"type":"quantitative","scale":{"domain":[0,1],"nice":false},"axis":null},"x2":{"datum":0.997},"y":{"value":0},"y2":{"value":"height"}}},
{"mark":{"type":"rule","strokeWidth":1.5},"encoding":{"x":{"datum":0.776,"type":"quantitative"},"x2":{"datum":0.843},"y":{"field":"s","type":"nominal","sort":["Out of plane","In plane"],"scale":{"type":"point","padding":0.48},"axis":null},"color":{"field":"s","type":"nominal","scale":{"domain":["Out of plane","In plane"],"range":["#000000","#ff0000"]},"legend":null}}},
{"mark":{"type":"point","filled":true,"opacity":1,"size":60},"encoding":{"x":{"datum":0.811,"type":"quantitative"},"y":{"field":"s","type":"nominal","sort":["Out of plane","In plane"],"axis":null},"color":{"field":"s","type":"nominal","legend":null},"shape":{"field":"s","type":"nominal","scale":{"domain":["Out of plane","In plane"],"range":["square","circle"]},"legend":null}}},
{"mark":{"type":"text","align":"left","baseline":"middle","font":"DejaVu Sans","fontSize":14.5,"fontWeight":"bold","color":"#000000"},"encoding":{"x":{"datum":0.849,"type":"quantitative"},"y":{"field":"s","type":"nominal","sort":["Out of plane","In plane"],"axis":null},"text":{"field":"s"}}}
]
},
{
"spacing":23,
"vconcat":[
{
"spacing":0,"bounds":"flush",
"title":{"text":"Applied field (kOe)","orient":"bottom","anchor":"middle","font":"DejaVu Sans","fontSize":22,"fontWeight":"bold","color":"#000000","offset":14,"dx":-32},
"hconcat":[
{"width":238,"height":196,"data":{"name":"p1"},"resolve":{"axis":{"x":"independent","y":"independent"}},"layer":[
{"transform":[{"filter":"datum.s=='O'"}],"mark":{"type":"line","color":"#000000","strokeWidth":1},"encoding":{"x":{"field":"h","type":"quantitative","title":null,"scale":{"domain":[-10,10],"nice":false},"axis":{"orient":"bottom","values":[-8,-6,-4,-2,0,2,4,6,8],"labelExpr":"datum.value % 4 == 0 ? toString(datum.value) : ''"}},"y":{"field":"m","type":"quantitative","title":null,"scale":{"domain":[-1.5,1.5],"nice":false,"zero":false},"axis":{"orient":"left","values":[-1,-0.5,0,0.5,1],"labelExpr":"datum.value % 1 == 0 ? toString(datum.value) : ''"}},"order":{"field":"o","type":"quantitative"}}},
{"transform":[{"filter":"datum.s=='O'"}],"mark":{"type":"point","shape":"square","filled":true,"color":"#000000","size":55,"opacity":1},"encoding":{"x":{"field":"h","type":"quantitative","axis":null},"y":{"field":"m","type":"quantitative","axis":null}}},
{"transform":[{"filter":"datum.s=='I'"}],"mark":{"type":"line","color":"#ff0000","strokeWidth":1},"encoding":{"x":{"field":"h","type":"quantitative","axis":null},"y":{"field":"m","type":"quantitative","axis":null},"order":{"field":"o","type":"quantitative"}}},
{"transform":[{"filter":"datum.s=='I'"}],"mark":{"type":"point","shape":"circle","filled":true,"color":"#ff0000","size":78,"opacity":1},"encoding":{"x":{"field":"h","type":"quantitative","axis":null},"y":{"field":"m","type":"quantitative","axis":null}}},
{"data":{"values":[{"label":"x=1.0nm"}]},"mark":{"type":"text","align":"left","baseline":"middle","font":"DejaVu Sans","fontSize":16,"fontWeight":"bold","color":"#000000"},"encoding":{"x":{"datum":-8.85,"type":"quantitative","title":null,"axis":{"orient":"top","labels":false,"values":[-8,-6,-4,-2,0,2,4,6,8]}},"y":{"datum":1.18,"type":"quantitative","title":null,"axis":{"orient":"right","labels":false,"values":[-1,-0.5,0,0.5,1]}},"text":{"field":"label"}}}
]},
{"width":238,"height":196,"data":{"name":"p2"},"resolve":{"axis":{"x":"independent","y":"independent"}},"layer":[
{"transform":[{"filter":"datum.s=='O'"}],"mark":{"type":"line","color":"#000000","strokeWidth":1},"encoding":{"x":{"field":"h","type":"quantitative","title":null,"scale":{"domain":[-10,10],"nice":false},"axis":{"orient":"bottom","values":[-8,-6,-4,-2,0,2,4,6,8],"labelExpr":"datum.value % 4 == 0 ? toString(datum.value) : ''"}},"y":{"field":"m","type":"quantitative","title":null,"scale":{"domain":[-1.5,1.5],"nice":false,"zero":false},"axis":{"orient":"left","labels":false,"values":[-1,-0.5,0,0.5,1]}},"order":{"field":"o","type":"quantitative"}}},
{"transform":[{"filter":"datum.s=='O'"}],"mark":{"type":"point","shape":"square","filled":true,"color":"#000000","size":55,"opacity":1},"encoding":{"x":{"field":"h","type":"quantitative","axis":null},"y":{"field":"m","type":"quantitative","axis":null}}},
{"transform":[{"filter":"datum.s=='I'"}],"mark":{"type":"line","color":"#ff0000","strokeWidth":1},"encoding":{"x":{"field":"h","type":"quantitative","axis":null},"y":{"field":"m","type":"quantitative","axis":null},"order":{"field":"o","type":"quantitative"}}},
{"transform":[{"filter":"datum.s=='I'"}],"mark":{"type":"point","shape":"circle","filled":true,"color":"#ff0000","size":78,"opacity":1},"encoding":{"x":{"field":"h","type":"quantitative","axis":null},"y":{"field":"m","type":"quantitative","axis":null}}},
{"data":{"values":[{"label":"x=1.1nm"}]},"mark":{"type":"text","align":"left","baseline":"middle","font":"DejaVu Sans","fontSize":16,"fontWeight":"bold","color":"#000000"},"encoding":{"x":{"datum":-9.25,"type":"quantitative","title":null,"axis":{"orient":"top","labels":false,"values":[-8,-6,-4,-2,0,2,4,6,8]}},"y":{"datum":1.18,"type":"quantitative","title":null,"axis":{"orient":"right","labels":false,"values":[-1,-0.5,0,0.5,1]}},"text":{"field":"label"}}}
]},
{"width":238,"height":196,"data":{"name":"p3"},"resolve":{"axis":{"x":"independent","y":"independent"}},"layer":[
{"transform":[{"filter":"datum.s=='O'"}],"mark":{"type":"line","color":"#000000","strokeWidth":1},"encoding":{"x":{"field":"h","type":"quantitative","title":null,"scale":{"domain":[-10,10],"nice":false},"axis":{"orient":"bottom","values":[-8,-6,-4,-2,0,2,4,6,8],"labelExpr":"datum.value % 4 == 0 ? toString(datum.value) : ''"}},"y":{"field":"m","type":"quantitative","title":null,"scale":{"domain":[-1.5,1.5],"nice":false,"zero":false},"axis":{"orient":"left","labels":false,"values":[-1,-0.5,0,0.5,1]}},"order":{"field":"o","type":"quantitative"}}},
{"transform":[{"filter":"datum.s=='O'"}],"mark":{"type":"point","shape":"square","filled":true,"color":"#000000","size":55,"opacity":1},"encoding":{"x":{"field":"h","type":"quantitative","axis":null},"y":{"field":"m","type":"quantitative","axis":null}}},
{"transform":[{"filter":"datum.s=='I'"}],"mark":{"type":"line","color":"#ff0000","strokeWidth":1},"encoding":{"x":{"field":"h","type":"quantitative","axis":null},"y":{"field":"m","type":"quantitative","axis":null},"order":{"field":"o","type":"quantitative"}}},
{"transform":[{"filter":"datum.s=='I'"}],"mark":{"type":"point","shape":"circle","filled":true,"color":"#ff0000","size":78,"opacity":1},"encoding":{"x":{"field":"h","type":"quantitative","axis":null},"y":{"field":"m","type":"quantitative","axis":null}}},
{"data":{"values":[{"label":"x=1.2nm"}]},"mark":{"type":"text","align":"left","baseline":"middle","font":"DejaVu Sans","fontSize":16,"fontWeight":"bold","color":"#000000"},"encoding":{"x":{"datum":-8.95,"type":"quantitative","title":null,"axis":{"orient":"top","labels":false,"values":[-8,-6,-4,-2,0,2,4,6,8]}},"y":{"datum":1.18,"type":"quantitative","title":null,"axis":{"orient":"right","labels":false,"values":[-1,-0.5,0,0.5,1]}},"text":{"field":"label"}}}
]}
]
},
{
"spacing":0,"bounds":"flush",
"title":{"text":"Applied field (kOe)","orient":"bottom","anchor":"middle","font":"DejaVu Sans","fontSize":22,"fontWeight":"bold","color":"#000000","offset":29,"dx":-21},
"hconcat":[
{"width":238,"height":196,"data":{"name":"p4"},"resolve":{"axis":{"x":"independent","y":"independent"}},"layer":[
{"transform":[{"filter":"datum.s=='O'"}],"mark":{"type":"line","color":"#000000","strokeWidth":1},"encoding":{"x":{"field":"h","type":"quantitative","title":null,"scale":{"domain":[-10,10],"nice":false},"axis":{"orient":"bottom","values":[-8,-6,-4,-2,0,2,4,6,8],"labelExpr":"datum.value % 4 == 0 ? toString(datum.value) : ''"}},"y":{"field":"m","type":"quantitative","title":null,"scale":{"domain":[-1.5,1.5],"nice":false,"zero":false},"axis":{"orient":"left","values":[-1,-0.5,0,0.5,1],"labelExpr":"datum.value % 1 == 0 ? toString(datum.value) : ''"}},"order":{"field":"o","type":"quantitative"}}},
{"transform":[{"filter":"datum.s=='O'"}],"mark":{"type":"point","shape":"square","filled":true,"color":"#000000","size":55,"opacity":1},"encoding":{"x":{"field":"h","type":"quantitative","axis":null},"y":{"field":"m","type":"quantitative","axis":null}}},
{"transform":[{"filter":"datum.s=='I'"}],"mark":{"type":"line","color":"#ff0000","strokeWidth":1},"encoding":{"x":{"field":"h","type":"quantitative","axis":null},"y":{"field":"m","type":"quantitative","axis":null},"order":{"field":"o","type":"quantitative"}}},
{"transform":[{"filter":"datum.s=='I'"}],"mark":{"type":"point","shape":"circle","filled":true,"color":"#ff0000","size":78,"opacity":1},"encoding":{"x":{"field":"h","type":"quantitative","axis":null},"y":{"field":"m","type":"quantitative","axis":null}}},
{"data":{"values":[{"label":"x=1.3nm"}]},"mark":{"type":"text","align":"left","baseline":"middle","font":"DejaVu Sans","fontSize":16,"fontWeight":"bold","color":"#000000"},"encoding":{"x":{"datum":-8.85,"type":"quantitative","title":null,"axis":{"orient":"top","labels":false,"values":[-8,-6,-4,-2,0,2,4,6,8]}},"y":{"datum":1.22,"type":"quantitative","title":null,"axis":{"orient":"right","labels":false,"values":[-1,-0.5,0,0.5,1]}},"text":{"field":"label"}}}
]},
{"width":238,"height":196,"data":{"name":"p5"},"resolve":{"axis":{"x":"independent","y":"independent"}},"layer":[
{"transform":[{"filter":"datum.s=='O'"}],"mark":{"type":"line","color":"#000000","strokeWidth":1},"encoding":{"x":{"field":"h","type":"quantitative","title":null,"scale":{"domain":[-10,10],"nice":false},"axis":{"orient":"bottom","values":[-8,-6,-4,-2,0,2,4,6,8],"labelExpr":"datum.value % 4 == 0 ? toString(datum.value) : ''"}},"y":{"field":"m","type":"quantitative","title":null,"scale":{"domain":[-1.5,1.5],"nice":false,"zero":false},"axis":{"orient":"left","labels":false,"values":[-1,-0.5,0,0.5,1]}},"order":{"field":"o","type":"quantitative"}}},
{"transform":[{"filter":"datum.s=='O'"}],"mark":{"type":"point","shape":"square","filled":true,"color":"#000000","size":55,"opacity":1},"encoding":{"x":{"field":"h","type":"quantitative","axis":null},"y":{"field":"m","type":"quantitative","axis":null}}},
{"transform":[{"filter":"datum.s=='I'"}],"mark":{"type":"line","color":"#ff0000","strokeWidth":1},"encoding":{"x":{"field":"h","type":"quantitative","axis":null},"y":{"field":"m","type":"quantitative","axis":null},"order":{"field":"o","type":"quantitative"}}},
{"transform":[{"filter":"datum.s=='I'"}],"mark":{"type":"point","shape":"circle","filled":true,"color":"#ff0000","size":78,"opacity":1},"encoding":{"x":{"field":"h","type":"quantitative","axis":null},"y":{"field":"m","type":"quantitative","axis":null}}},
{"data":{"values":[{"label":"x=1.4nm"}]},"mark":{"type":"text","align":"left","baseline":"middle","font":"DejaVu Sans","fontSize":16,"fontWeight":"bold","color":"#000000"},"encoding":{"x":{"datum":-8.6,"type":"quantitative","title":null,"axis":{"orient":"top","labels":false,"values":[-8,-6,-4,-2,0,2,4,6,8]}},"y":{"datum":1.26,"type":"quantitative","title":null,"axis":{"orient":"right","labels":false,"values":[-1,-0.5,0,0.5,1]}},"text":{"field":"label"}}}
]},
{"width":238,"height":196,"data":{"name":"p6"},"resolve":{"axis":{"x":"independent","y":"independent"}},"layer":[
{"transform":[{"filter":"datum.s=='O'"}],"mark":{"type":"line","color":"#000000","strokeWidth":1},"encoding":{"x":{"field":"h","type":"quantitative","title":null,"scale":{"domain":[-10,10],"nice":false},"axis":{"orient":"bottom","values":[-8,-6,-4,-2,0,2,4,6,8],"labelExpr":"datum.value % 4 == 0 ? toString(datum.value) : ''"}},"y":{"field":"m","type":"quantitative","title":null,"scale":{"domain":[-1.5,1.5],"nice":false,"zero":false},"axis":{"orient":"left","labels":false,"values":[-1,-0.5,0,0.5,1]}},"order":{"field":"o","type":"quantitative"}}},
{"transform":[{"filter":"datum.s=='O'"}],"mark":{"type":"point","shape":"square","filled":true,"color":"#000000","size":55,"opacity":1},"encoding":{"x":{"field":"h","type":"quantitative","axis":null},"y":{"field":"m","type":"quantitative","axis":null}}},
{"transform":[{"filter":"datum.s=='I'"}],"mark":{"type":"line","color":"#ff0000","strokeWidth":1},"encoding":{"x":{"field":"h","type":"quantitative","axis":null},"y":{"field":"m","type":"quantitative","axis":null},"order":{"field":"o","type":"quantitative"}}},
{"transform":[{"filter":"datum.s=='I'"}],"mark":{"type":"point","shape":"circle","filled":true,"color":"#ff0000","size":78,"opacity":1},"encoding":{"x":{"field":"h","type":"quantitative","axis":null},"y":{"field":"m","type":"quantitative","axis":null}}},
{"data":{"values":[{"label":"x=1.5nm"}]},"mark":{"type":"text","align":"left","baseline":"middle","font":"DejaVu Sans","fontSize":16,"fontWeight":"bold","color":"#000000"},"encoding":{"x":{"datum":-8.35,"type":"quantitative","title":null,"axis":{"orient":"top","labels":false,"values":[-8,-6,-4,-2,0,2,4,6,8]}},"y":{"datum":1.24,"type":"quantitative","title":null,"axis":{"orient":"right","labels":false,"values":[-1,-0.5,0,0.5,1]}},"text":{"field":"label"}}}
]}
]
}
]
}
]
}
],
"config":{
"font":"Liberation Sans",
"view":{"stroke":"#000000","strokeWidth":2},
"axis":{"domain":false,"grid":false,"tickSize":-5,"tickColor":"#000000","tickWidth":1.5,"labelFont":"Liberation Sans","labelFontSize":14,"labelColor":"#1a1a1a","labelPadding":13,"labelFlush":false,"labelOverlap":false}
}
}
